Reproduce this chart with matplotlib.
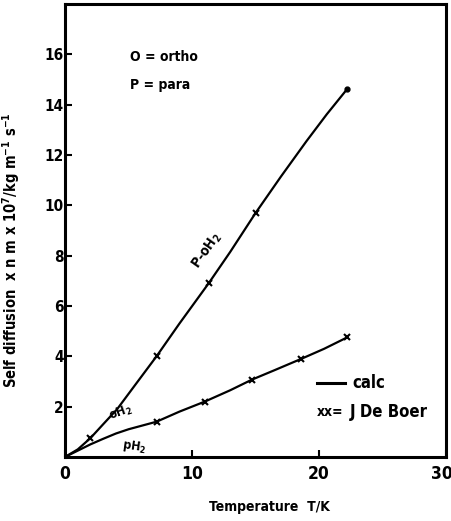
import numpy as np
import matplotlib
matplotlib.use('Agg')
import matplotlib.pyplot as plt
from matplotlib.transforms import ScaledTranslation

plt.rcParams['font.family'] = ['DejaVu Sans']
plt.rcParams['font.weight'] = 'bold'
plt.rcParams['font.stretch'] = 'condensed'
plt.rcParams['axes.labelweight'] = 'bold'
plt.rcParams['mathtext.default'] = 'bf'

# curva P-oH2 (calc)
T_p = [0, 1, 2, 3, 4.1, 5.5, 7.2, 9, 11.3, 13, 15, 17, 19, 20.6, 22.2]
D_p = [0, 0.3, 0.75, 1.3, 1.9, 2.85, 4.0, 5.3, 6.9, 8.15, 9.7, 11.15, 12.55, 13.62, 14.62]
# puntos De Boer sobre P-oH2
T_p_exp = [2.0, 7.2, 11.3, 15.0]
D_p_exp = [0.75, 4.0, 6.9, 9.7]

# curva oH2 / pH2 (calc)
T_o = [0, 1, 2, 3, 4, 5, 7.2, 9, 11, 13, 14.7, 16.5, 18.6, 20.4, 22.2]
D_o = [0, 0.25, 0.5, 0.72, 0.93, 1.1, 1.4, 1.8, 2.2, 2.65, 3.07, 3.45, 3.9, 4.3, 4.75]
T_o_exp = [7.2, 11.0, 14.7, 18.6, 22.2]
D_o_exp = [1.4, 2.2, 3.07, 3.9, 4.75]

xticks = [0, 10, 20, 30]
yticks = [2, 4, 6, 8, 10, 12, 14, 16]

fig = plt.figure(figsize=(4.52, 5.21), dpi=100)
ax = fig.add_axes([0.144, 0.123, 0.843, 0.869])

ax.plot(T_p, D_p, 'k', lw=1.6)
ax.plot(T_o, D_o, 'k', lw=1.6)
ax.plot(T_p_exp, D_p_exp, 'kx', ms=4, mew=1.5)
ax.plot(T_o_exp, D_o_exp, 'kx', ms=4, mew=1.5)
ax.plot([T_p[-1]], [D_p[-1]], 'ko', ms=3.5)

ax.set_xlim(0, 30)
ax.set_ylim(0, 18)
ax.set_xticks(xticks)
ax.set_yticks(yticks)
ax.tick_params(axis='y', direction='in', length=5, width=1.5, labelsize=11, pad=1)
ax.tick_params(axis='x', direction='in', length=5, width=1.5, labelsize=12.5, pad=6)
for s in ax.spines.values():
    s.set_linewidth(2.2)
# el "30" queda pegado al borde, correrlo un poco
lab30 = ax.get_xticklabels()[-1]
lab30.set_transform(lab30.get_transform() + ScaledTranslation(-4/100, 0, fig.dpi_scale_trans))

ax.set_xlabel('Temperature  T/K', fontsize=10, labelpad=14)
ax.xaxis.set_label_coords(0.535, -0.095)
ax.set_ylabel('Self diffusion  x n m x 10$^7$/kg m$^{-1}$ s$^{-1}$', fontsize=10.5)
ax.yaxis.set_label_coords(-0.112, 0.457)

# textos
ax.text(5.1, 15.9, 'O = ortho', fontsize=10, va='center')
ax.text(5.1, 14.8, 'P = para', fontsize=10, va='center')
ax.text(11.2, 8.2, 'P-oH$_2$', fontsize=10, rotation=55, ha='center', va='center')
ax.text(4.4, 1.75, 'oH$_2$', fontsize=9, rotation=20, ha='center', va='center')
ax.text(5.4, 0.4, 'pH$_2$', fontsize=9, rotation=-8, ha='center', va='center')

# leyenda
ax.plot([19.8, 22.0], [2.95, 2.95], 'k', lw=2.2)
ax.text(22.6, 2.95, 'calc', fontsize=12, va='center')
ax.text(19.8, 1.8, 'xx=', fontsize=10, va='center')
ax.text(22.4, 1.8, 'J De Boer', fontsize=12, va='center')

plt.savefig('out.png', dpi=100)
